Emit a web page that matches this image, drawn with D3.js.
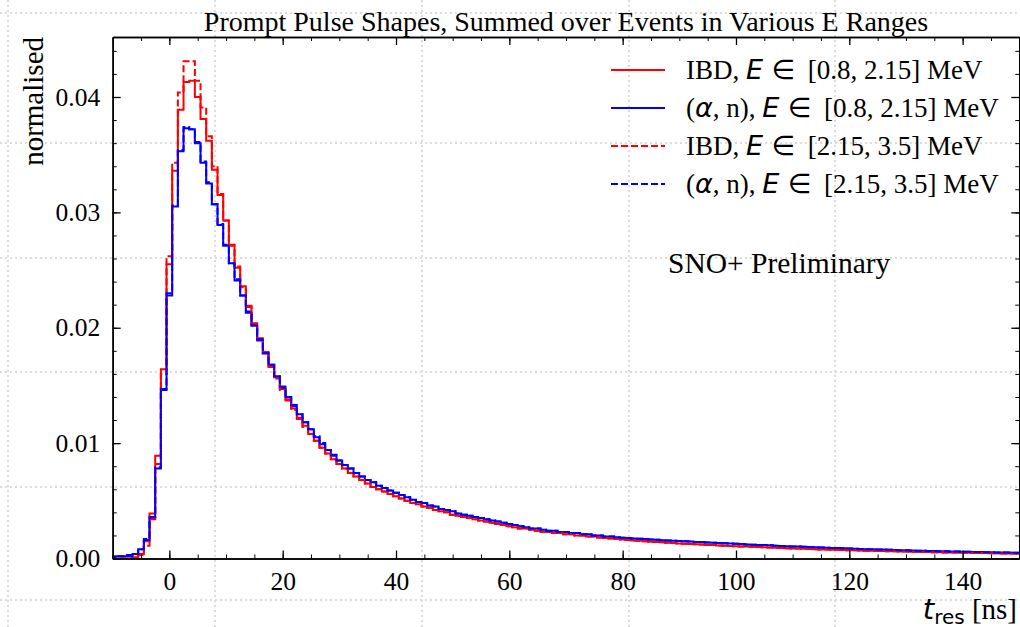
<!DOCTYPE html>
<html>
<head>
<meta charset="utf-8">
<script src="https://cdn.jsdelivr.net/npm/d3@7"></script>
<style>
  body { margin: 0; background: #fff; }
  svg text { font-family: "Liberation Serif", "Times New Roman", serif; fill: #000; }
  .math { font-family: "DejaVu Sans", sans-serif; font-style: italic; }
  .mathup { font-family: "DejaVu Sans", sans-serif; }
</style>
</head>
<body>
<svg id="chart"></svg>
<script>
const width = 1020;
const height = 627;

// bins of 1 ns, centred on integers, first one centred at -10 ns
const firstBin = -10;
const binWidth = 1;

// IBD, E in [0.8, 2.15] MeV
const ibdLow = [
  0, 0, 0, 0, 0.0001, 0.0004, 0.0015, 0.0039, 0.0089, 0.0164,
  0.0255, 0.0336, 0.0389, 0.0413, 0.0414, 0.0400, 0.0381, 0.0362, 0.0337, 0.0315,
  0.0293, 0.0271, 0.0252, 0.0236, 0.0219, 0.0204, 0.0191, 0.0179, 0.0167, 0.0157,
  0.0147, 0.0138, 0.0130, 0.0122, 0.0115, 0.0108, 0.0102, 0.0096, 0.0091, 0.0086,
  0.0082, 0.0078, 0.0074, 0.0071, 0.0068, 0.0065, 0.0062, 0.0060, 0.0058, 0.0056,
  0.0054, 0.0052, 0.0050, 0.0048, 0.0047, 0.0045, 0.0044, 0.0042, 0.0041, 0.0040,
  0.0038, 0.0037, 0.0036, 0.0035, 0.0034, 0.0033, 0.0032, 0.0031, 0.0030, 0.0029,
  0.0028, 0.0027, 0.0026, 0.0026, 0.0025, 0.0024, 0.0023, 0.0023, 0.0022, 0.0022,
  0.0021, 0.0021, 0.0020, 0.0020, 0.0019, 0.0019, 0.00183, 0.00178, 0.00173, 0.00168,
  0.00164, 0.0016, 0.00156, 0.00153, 0.00149, 0.00146, 0.00143, 0.0014, 0.00137, 0.00134,
  0.00131, 0.00128, 0.00126, 0.00123, 0.00121, 0.00118, 0.00116, 0.00113, 0.00111, 0.00109,
  0.00107, 0.00105, 0.00103, 0.00101, 0.00099, 0.00097, 0.00095, 0.00093, 0.00091, 0.00089,
  0.00087, 0.00086, 0.00084, 0.00082, 0.00081, 0.00079, 0.00078, 0.00076, 0.00075, 0.00073,
  0.00072, 0.00071, 0.00069, 0.00068, 0.00067, 0.00065, 0.00064, 0.00063, 0.00062, 0.00061,
  0.0006, 0.00059, 0.00058, 0.00057, 0.00056, 0.00055, 0.00054, 0.00053, 0.00052, 0.00051,
  0.0005, 0.00049, 0.00048, 0.00047, 0.00047, 0.00046, 0.00045, 0.00044, 0.00044, 0.00043,
  0.00042
];

// (alpha, n), E in [0.8, 2.15] MeV
const anLow = [
  0.0002, 0.0002, 0.0002, 0.0002, 0.0004, 0.0008, 0.0016, 0.0035, 0.0078, 0.0146,
  0.0228, 0.0305, 0.0353, 0.0373, 0.0372, 0.0360, 0.0343, 0.0325, 0.0307, 0.0289,
  0.0271, 0.0256, 0.0241, 0.0228, 0.0213, 0.0202, 0.0189, 0.0178, 0.0168, 0.0158,
  0.0148, 0.0140, 0.0132, 0.0125, 0.0118, 0.0112, 0.0105, 0.0099, 0.0094, 0.0089,
  0.0085, 0.0081, 0.0078, 0.0074, 0.0071, 0.0068, 0.0066, 0.0063, 0.0061, 0.0059,
  0.0057, 0.0055, 0.0053, 0.0051, 0.0049, 0.0048, 0.0046, 0.0045, 0.0043, 0.0042,
  0.0041, 0.0039, 0.0038, 0.0037, 0.0036, 0.0035, 0.0034, 0.0033, 0.0032, 0.0031,
  0.0030, 0.0029, 0.0028, 0.0027, 0.0026, 0.0026, 0.0025, 0.0024, 0.0024, 0.0023,
  0.0023, 0.0022, 0.0022, 0.0021, 0.0021, 0.0020, 0.0020, 0.0019, 0.0019, 0.00185,
  0.0018, 0.00177, 0.00174, 0.00171, 0.00168, 0.00165, 0.00162, 0.00159, 0.00157, 0.00154,
  0.00152, 0.00149, 0.00147, 0.00144, 0.00142, 0.00139, 0.00137, 0.00134, 0.00132, 0.00129,
  0.00127, 0.00125, 0.00122, 0.0012, 0.00118, 0.00116, 0.00114, 0.00111, 0.00109, 0.00107,
  0.00105, 0.00103, 0.00101, 0.00099, 0.00097, 0.00095, 0.00093, 0.00091, 0.0009, 0.00088,
  0.00086, 0.00084, 0.00083, 0.00081, 0.0008, 0.00078, 0.00077, 0.00075, 0.00074, 0.00072,
  0.00071, 0.0007, 0.00068, 0.00067, 0.00066, 0.00065, 0.00063, 0.00062, 0.00061, 0.0006,
  0.00059, 0.00058, 0.00057, 0.00056, 0.00055, 0.00054, 0.00053, 0.00052, 0.00051, 0.0005,
  0.00049
];

// IBD, E in [2.15, 3.5] MeV
const ibdHigh = [
  0, 0, 0, 0, 0, 0.0003, 0.0011, 0.0034, 0.0082, 0.0160,
  0.0262, 0.0343, 0.0404, 0.0431, 0.0431, 0.0414, 0.0391, 0.0366, 0.0340, 0.0316,
  0.0293, 0.0272, 0.0253, 0.0235, 0.0218, 0.0203, 0.0190, 0.0178, 0.0166, 0.0156,
  0.0146, 0.0137, 0.0129, 0.0121, 0.0114, 0.0108, 0.0102, 0.0096, 0.0091, 0.0086,
  0.0082, 0.0078, 0.0074, 0.0071, 0.0068, 0.0065, 0.0062, 0.0060, 0.0058, 0.0056,
  0.0054, 0.0052, 0.0050, 0.0048, 0.0047, 0.0045, 0.0044, 0.0042, 0.0041, 0.0040,
  0.0038, 0.0037, 0.0036, 0.0035, 0.0034, 0.0033, 0.0032, 0.0031, 0.0030, 0.0029,
  0.0028, 0.0027, 0.0026, 0.0026, 0.0025, 0.0024, 0.0023, 0.0023, 0.0022, 0.0022,
  0.0021, 0.0021, 0.0020, 0.0020, 0.0019, 0.0019, 0.00183, 0.00178, 0.00173, 0.00168,
  0.00164, 0.0016, 0.00156, 0.00153, 0.00149, 0.00146, 0.00143, 0.0014, 0.00137, 0.00134,
  0.00131, 0.00128, 0.00126, 0.00123, 0.00121, 0.00118, 0.00116, 0.00113, 0.00111, 0.00109,
  0.00107, 0.00105, 0.00103, 0.00101, 0.00099, 0.00097, 0.00095, 0.00093, 0.00091, 0.00089,
  0.00087, 0.00086, 0.00084, 0.00082, 0.00081, 0.00079, 0.00078, 0.00076, 0.00075, 0.00073,
  0.00072, 0.00071, 0.00069, 0.00068, 0.00067, 0.00065, 0.00064, 0.00063, 0.00062, 0.00061,
  0.0006, 0.00059, 0.00058, 0.00057, 0.00056, 0.00055, 0.00054, 0.00053, 0.00052, 0.00051,
  0.0005, 0.00049, 0.00048, 0.00047, 0.00047, 0.00046, 0.00045, 0.00044, 0.00044, 0.00043,
  0.00042
];

// (alpha, n), E in [2.15, 3.5] MeV
const anHigh = [
  0.0001, 0.0002, 0.0002, 0.0003, 0.0004, 0.0008, 0.0017, 0.0036, 0.0079, 0.0147,
  0.0230, 0.0306, 0.0354, 0.0374, 0.0372, 0.0361, 0.0344, 0.0326, 0.0307, 0.0290,
  0.0272, 0.0256, 0.0242, 0.0228, 0.0214, 0.0202, 0.0190, 0.0178, 0.0168, 0.0158,
  0.0149, 0.0140, 0.0133, 0.0125, 0.0118, 0.0112, 0.0106, 0.0100, 0.0094, 0.0090,
  0.0085, 0.0081, 0.0078, 0.0074, 0.0071, 0.0068, 0.0066, 0.0063, 0.0061, 0.0059,
  0.0057, 0.0055, 0.0053, 0.0051, 0.0049, 0.0048, 0.0046, 0.0045, 0.0043, 0.0042,
  0.0041, 0.0039, 0.0038, 0.0037, 0.0036, 0.0035, 0.0034, 0.0033, 0.0032, 0.0031,
  0.0030, 0.0029, 0.0028, 0.0027, 0.0026, 0.0026, 0.0025, 0.0024, 0.0024, 0.0023,
  0.0023, 0.0022, 0.0022, 0.0021, 0.0021, 0.0020, 0.0020, 0.0019, 0.0019, 0.00185,
  0.0018, 0.00177, 0.00174, 0.00171, 0.00168, 0.00165, 0.00162, 0.00159, 0.00157, 0.00154,
  0.00152, 0.00149, 0.00147, 0.00144, 0.00142, 0.00139, 0.00137, 0.00134, 0.00132, 0.00129,
  0.00127, 0.00125, 0.00122, 0.0012, 0.00118, 0.00116, 0.00114, 0.00111, 0.00109, 0.00107,
  0.00105, 0.00103, 0.00101, 0.00099, 0.00097, 0.00095, 0.00093, 0.00091, 0.0009, 0.00088,
  0.00086, 0.00084, 0.00083, 0.00081, 0.0008, 0.00078, 0.00077, 0.00075, 0.00074, 0.00072,
  0.00071, 0.0007, 0.00068, 0.00067, 0.00066, 0.00065, 0.00063, 0.00062, 0.00061, 0.0006,
  0.00059, 0.00058, 0.00057, 0.00056, 0.00055, 0.00054, 0.00053, 0.00052, 0.00051, 0.0005,
  0.00049
];

const xTicks = [0, 20, 40, 60, 80, 100, 120, 140];
const yTicks = [0, 0.01, 0.02, 0.03, 0.04];

const series = [
  { name: "IBD", range: "[0.8, 2.15] MeV", values: ibdLow, color: "#ff0000", dash: null },
  { name: "an", range: "[0.8, 2.15] MeV", values: anLow, color: "#0000ff", dash: null },
  { name: "IBD", range: "[2.15, 3.5] MeV", values: ibdHigh, color: "#ff0000", dash: "7,3" },
  { name: "an", range: "[2.15, 3.5] MeV", values: anHigh, color: "#0000ff", dash: "7,3" }
];

const svg = d3.select("#chart")
  .attr("width", width)
  .attr("height", height);

// faint dotted background grid of the figure
const gridX = [8, 215, 422, 629, 835];
const gridY = [13, 143, 258, 372, 487, 600];
const grid = svg.append("g")
  .attr("stroke", "#dcdcdc")
  .attr("stroke-width", 2)
  .attr("stroke-dasharray", "2,3");
grid.selectAll(".gx").data(gridX).enter().append("line")
  .attr("x1", d => d).attr("x2", d => d)
  .attr("y1", 0).attr("y2", height);
grid.selectAll(".gy").data(gridY).enter().append("line")
  .attr("x1", 0).attr("x2", width)
  .attr("y1", d => d).attr("y2", d => d);

const plotLeft = 112.7, plotRight = 1019.3, plotTop = 37, plotBottom = 558.5;

const x = d3.scaleLinear().domain([-10, 150]).range([plotLeft, plotRight]);
const y = d3.scaleLinear().domain([0, 0.0452]).range([plotBottom, plotTop]);

svg.append("clipPath").attr("id", "clip")
  .append("rect")
  .attr("x", plotLeft).attr("y", plotTop)
  .attr("width", plotRight - plotLeft).attr("height", plotBottom - plotTop);

// step histograms
const line = d3.line()
  .x(d => x(d[0]))
  .y(d => y(d[1]))
  .curve(d3.curveStepAfter);

function stepPoints(values) {
  const pts = [];
  const e0 = firstBin - binWidth / 2;
  pts.push([e0, 0]);
  values.forEach((v, i) => pts.push([e0 + i * binWidth, v]));
  const eN = e0 + values.length * binWidth;
  pts.push([eN, values[values.length - 1]]);
  pts.push([eN, 0]);
  return pts;
}

const plot = svg.append("g").attr("clip-path", "url(#clip)");
series.forEach(s => {
  plot.append("path")
    .attr("d", line(stepPoints(s.values)))
    .attr("fill", "none")
    .attr("stroke", s.color)
    .attr("stroke-width", 2)
    .attr("stroke-dasharray", s.dash)
    .attr("stroke-linejoin", "miter");
});

// axes, ticks pointing inwards
const tickFont = 25.5;

function styleAxis(g, w) {
  g.select(".domain").attr("stroke", "#000").attr("stroke-width", 1.6);
  g.selectAll(".tick line").attr("stroke", "#000").attr("stroke-width", w);
}

const xMinor = d3.range(-10, 151, 5);
const yMinor = d3.range(0, 0.0451, 0.002);

svg.append("g")
  .attr("transform", `translate(0,${plotBottom})`)
  .call(d3.axisBottom(x).tickValues(xMinor).tickFormat("").tickSizeInner(-4).tickSizeOuter(0))
  .call(g => styleAxis(g, 1));
svg.append("g")
  .attr("transform", `translate(0,${plotTop})`)
  .call(d3.axisTop(x).tickValues(xMinor).tickFormat("").tickSizeInner(-4).tickSizeOuter(0))
  .call(g => styleAxis(g, 1));
svg.append("g")
  .attr("transform", `translate(${plotLeft},0)`)
  .call(d3.axisLeft(y).tickValues(yMinor).tickFormat("").tickSizeInner(-4).tickSizeOuter(0))
  .call(g => styleAxis(g, 1));
svg.append("g")
  .attr("transform", `translate(${plotRight},0)`)
  .call(d3.axisRight(y).tickValues(yMinor).tickFormat("").tickSizeInner(-4).tickSizeOuter(0))
  .call(g => styleAxis(g, 1));

const xAxis = svg.append("g")
  .attr("transform", `translate(0,${plotBottom})`)
  .call(d3.axisBottom(x).tickValues(xTicks).tickSizeInner(-8).tickSizeOuter(0).tickPadding(13))
  .call(g => styleAxis(g, 1.3));
xAxis.selectAll("text")
  .attr("font-family", "Liberation Serif, serif")
  .attr("font-size", tickFont)
  .attr("fill", "#000");

const yAxis = svg.append("g")
  .attr("transform", `translate(${plotLeft},0)`)
  .call(d3.axisLeft(y).tickValues(yTicks).tickFormat(d3.format(".2f")).tickSizeInner(-8).tickSizeOuter(0).tickPadding(12.5))
  .call(g => styleAxis(g, 1.3));
yAxis.selectAll("text")
  .attr("font-family", "Liberation Serif, serif")
  .attr("font-size", tickFont)
  .attr("fill", "#000");

svg.append("g")
  .attr("transform", `translate(0,${plotTop})`)
  .call(d3.axisTop(x).tickValues(xTicks).tickFormat("").tickSizeInner(-8).tickSizeOuter(0))
  .call(g => styleAxis(g, 1.3));
svg.append("g")
  .attr("transform", `translate(${plotRight},0)`)
  .call(d3.axisRight(y).tickValues(yTicks).tickFormat("").tickSizeInner(-8).tickSizeOuter(0))
  .call(g => styleAxis(g, 1.3));

// title
svg.append("text")
  .attr("x", (plotLeft + plotRight) / 2)
  .attr("y", 30.5)
  .attr("text-anchor", "middle")
  .attr("font-size", 28)
  .text("Prompt Pulse Shapes, Summed over Events in Various E Ranges");

// axis labels
svg.append("text")
  .attr("transform", `translate(43,${plotTop}) rotate(-90)`)
  .attr("text-anchor", "end")
  .attr("font-size", 29)
  .text("normalised");

const xl = svg.append("text")
  .attr("x", 1017)
  .attr("y", 619)
  .attr("text-anchor", "end")
  .attr("font-size", 29);
xl.append("tspan").attr("class", "math").text("t");
xl.append("tspan").attr("class", "mathup").attr("font-size", 20).attr("dy", 5).text("res");
xl.append("tspan").attr("dy", -5).text(" [ns]");

// legend
const legend = svg.append("g");
const rowY = d => 70 + d * 38;
series.forEach((s, i) => {
  legend.append("line")
    .attr("x1", 611).attr("x2", 665)
    .attr("y1", rowY(i)).attr("y2", rowY(i))
    .attr("stroke", s.color)
    .attr("stroke-width", 2)
    .attr("stroke-dasharray", s.dash);
  const t = legend.append("text")
    .attr("x", 686)
    .attr("y", rowY(i) + 9)
    .attr("font-size", 27);
  if (s.name === "IBD") {
    t.append("tspan").text("IBD, ");
  } else {
    t.append("tspan").text("(");
    t.append("tspan").attr("class", "math").text("\u03b1");
    t.append("tspan").text(", n), ");
  }
  t.append("tspan").attr("class", "math").text("E");
  t.append("tspan").attr("class", "mathup").text(" \u2208 ");
  t.append("tspan").attr("dx", 4).text(s.range);
});

svg.append("text")
  .attr("x", 668)
  .attr("y", 273)
  .attr("font-size", 29.5)
  .text("SNO+ Preliminary");
</script>
</body>
</html>
